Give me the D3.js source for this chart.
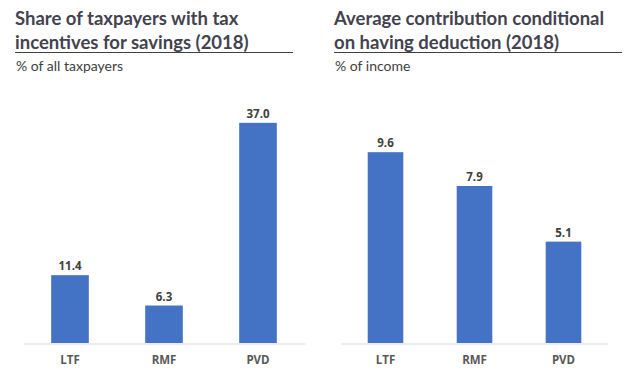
<!DOCTYPE html>
<html>
<head>
<meta charset="utf-8">
<script src="https://cdn.jsdelivr.net/npm/d3@7"></script>
<style>
  html, body { margin: 0; padding: 0; background: #fff; }
  svg { display: block; }
</style>
</head>
<body>
<svg id="chart" width="635" height="379"></svg>
<script>
const categories = ["LTF", "RMF", "PVD"];
const shareValues = [11.4, 6.3, 37.0];
const contributionValues = [9.6, 7.9, 5.1];
const leftTitle = ["Share of taxpayers with tax", "incentives for savings (2018)"];
const leftSubtitle = "% of all taxpayers";
const rightTitle = ["Average contribution conditional", "on having deduction (2018)"];
const rightSubtitle = "% of income";

const svg = d3.select("#chart");
const titleFont = "Lato, 'Open Sans', sans-serif";
const bodyFont = "'Open Sans', Lato, sans-serif";

function panel(opts) {
  const g = svg.append("g");
  opts.title.forEach((t, i) => {
    g.append("text")
      .attr("x", opts.tx).attr("y", 25 + i * 23.5)
      .attr("font-family", titleFont).attr("font-weight", 700)
      .attr("font-size", 18.5).attr("fill", "#43434F")
      .text(t);
  });
  g.append("line")
    .attr("x1", opts.tx).attr("x2", opts.ulEnd)
    .attr("y1", 52.5).attr("y2", 52.5)
    .attr("stroke", "#404040").attr("stroke-width", 1);
  g.append("text")
    .attr("x", opts.tx + 1).attr("y", 71)
    .attr("font-family", "Lato, sans-serif").attr("font-size", 14)
    .attr("fill", "#404040")
    .text(opts.subtitle);

  const x = d3.scaleBand().domain(categories).range(opts.xr).paddingInner(0.6).paddingOuter(0.3);
  const y = d3.scaleLinear().domain(opts.yd).range([343, opts.ytop]);

  g.selectAll("rect.bar").data(opts.values).join("rect")
    .attr("class", "bar")
    .attr("x", (d, i) => x(categories[i]))
    .attr("width", x.bandwidth())
    .attr("y", d => y(d))
    .attr("height", d => y(0) - y(d))
    .attr("fill", "#4472C4");

  g.selectAll("text.val").data(opts.values).join("text")
    .attr("class", "val")
    .attr("x", (d, i) => x(categories[i]) + x.bandwidth() / 2)
    .attr("y", d => y(d) - 5)
    .attr("text-anchor", "middle")
    .attr("font-family", bodyFont).attr("font-weight", 700)
    .attr("font-size", 11.5).attr("fill", "#404040")
    .text(d => d.toFixed(1));

  const axis = d3.axisBottom(x).tickSize(0).tickPadding(12);
  const ax = g.append("g").attr("transform", "translate(0,343.5)").call(axis);
  ax.select(".domain").attr("stroke", "#D9D9D9").attr("stroke-width", 1.2);
  ax.selectAll("text")
    .attr("font-family", bodyFont).attr("font-weight", 700)
    .attr("font-size", 11.5).attr("fill", "#595959");
}

panel({
  title: leftTitle, subtitle: leftSubtitle, tx: 15, ulEnd: 293,
  values: shareValues, xr: [23, 305], yd: [0, 40], ytop: 105
});
panel({
  title: rightTitle, subtitle: rightSubtitle, tx: 334, ulEnd: 622,
  values: contributionValues, xr: [341, 608], yd: [0, 12], ytop: 104.5
});
</script>
</body>
</html>
